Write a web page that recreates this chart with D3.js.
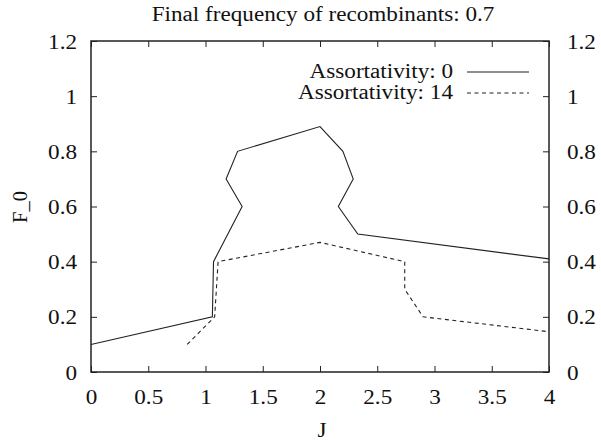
<!DOCTYPE html>
<html><head><meta charset="utf-8">
<script src="https://cdn.jsdelivr.net/npm/d3@7"></script>
<style>body{margin:0;background:#fff}svg{display:block}svg text{font-family:'Liberation Serif','DejaVu Serif',serif;fill:#111}</style>
</head><body>
<script>
const title = "Final frequency of recombinants: 0.7";
const xTicks = [0, 0.5, 1, 1.5, 2, 2.5, 3, 3.5, 4];
const xTickLabels = ["0", "0.5", "1", "1.5", "2", "2.5", "3", "3.5", "4"];
const yTicks = [0, 0.2, 0.4, 0.6, 0.8, 1, 1.2];
const yTickLabels = ["0", "0.2", "0.4", "0.6", "0.8", "1", "1.2"];
const seriesNames = ["Assortativity: 0", "Assortativity: 14"];
const jA0 = [0, 1.06, 1.07, 1.32, 1.18, 1.28, 2.0, 2.2, 2.29, 2.16, 2.33, 4.0];
const fA0 = [0.10, 0.20, 0.40, 0.60, 0.70, 0.80, 0.89, 0.80, 0.70, 0.60, 0.50, 0.41];
const jA14 = [0.84, 1.08, 1.11, 2.0, 2.74, 2.74, 2.9, 4.0];
const fA14 = [0.10, 0.20, 0.40, 0.47, 0.40, 0.30, 0.20, 0.146];

const W = 601, H = 441;
const m = {l: 91, r: 549, t: 41, b: 372};
const svg = d3.select("body").append("svg").attr("width", W).attr("height", H);
const x = d3.scaleLinear().domain([0, 4]).range([m.l, m.r]);
const y = d3.scaleLinear().domain([0, 1.2]).range([m.b, m.t]);
const fs = 20.5;
const sx = 1.13;   // horizontal stretch of the reference lettering
const ink = "#222";

function place(t, px, py, anchor){
  t.attr("x", null).attr("y", null).attr("dy", null)
   .attr("transform", `translate(${px},${py}) scale(${sx},1)`)
   .attr("text-anchor", anchor).attr("font-size", fs);
}

const tl = 6;
const axBottom = d3.axisBottom(x).tickValues(xTicks).tickFormat((d,i)=>xTickLabels[i]).tickSizeInner(-tl).tickSizeOuter(0);
const axTop = d3.axisTop(x).tickValues(xTicks).tickFormat("").tickSizeInner(-tl).tickSizeOuter(0);
const axLeft = d3.axisLeft(y).tickValues(yTicks).tickFormat((d,i)=>yTickLabels[i]).tickSizeInner(-tl).tickSizeOuter(0);
const axRight = d3.axisRight(y).tickValues(yTicks).tickFormat((d,i)=>yTickLabels[i]).tickSizeInner(-tl).tickSizeOuter(0);

function style(g){
  g.attr("font-family", null).attr("font-size", null);
  g.select(".domain").remove();
  g.selectAll(".tick line").attr("stroke", ink).attr("stroke-width", 1);
  g.selectAll(".tick text").attr("fill", "#111");
}
svg.append("g").attr("transform", `translate(0,${m.b})`).call(axBottom).call(style)
  .selectAll(".tick text").each(function(){ place(d3.select(this), 0, 32, "middle"); });
svg.append("g").attr("transform", `translate(0,${m.t})`).call(axTop).call(style);
svg.append("g").attr("transform", `translate(${m.l},0)`).call(axLeft).call(style)
  .selectAll(".tick text").each(function(){ place(d3.select(this), -14, 7, "end"); });
svg.append("g").attr("transform", `translate(${m.r},0)`).call(axRight).call(style)
  .selectAll(".tick text").each(function(){ place(d3.select(this), 18, 7, "start"); });

svg.append("rect").attr("x", m.l).attr("y", m.t).attr("width", m.r-m.l).attr("height", m.b-m.t)
  .attr("fill", "none").attr("stroke", ink).attr("stroke-width", 1.5);

const line = d3.line().x(d=>x(d[0])).y(d=>y(d[1]));
const s0 = jA0.map((j,i)=>[j, fA0[i]]);
const s1 = jA14.map((j,i)=>[j, fA14[i]]);
svg.append("path").datum(s0).attr("d", line).attr("fill","none").attr("stroke", ink).attr("stroke-width", 1.1);
svg.append("path").datum(s1).attr("d", line).attr("fill","none").attr("stroke", ink).attr("stroke-width", 1.1).attr("stroke-dasharray", "4,3.5");

const leg = svg.append("g");
[0,1].forEach(i=>{
  const yy = 71 + i*21;
  place(leg.append("text").text(seriesNames[i]), 453, yy+7, "end");
  leg.append("line").attr("x1", 467).attr("x2", 529).attr("y1", yy+1).attr("y2", yy+1)
    .attr("stroke", ink).attr("stroke-width", 1.1).attr("stroke-dasharray", i ? "4,3.5" : null);
});

place(svg.append("text").text(title), 323, 21, "middle");
place(svg.append("text").text("J"), 322, 437, "middle");
svg.append("text").attr("transform", "translate(27,207) rotate(-90)").attr("text-anchor","middle").attr("font-size", fs).text("F_0");
</script>
</body></html>
